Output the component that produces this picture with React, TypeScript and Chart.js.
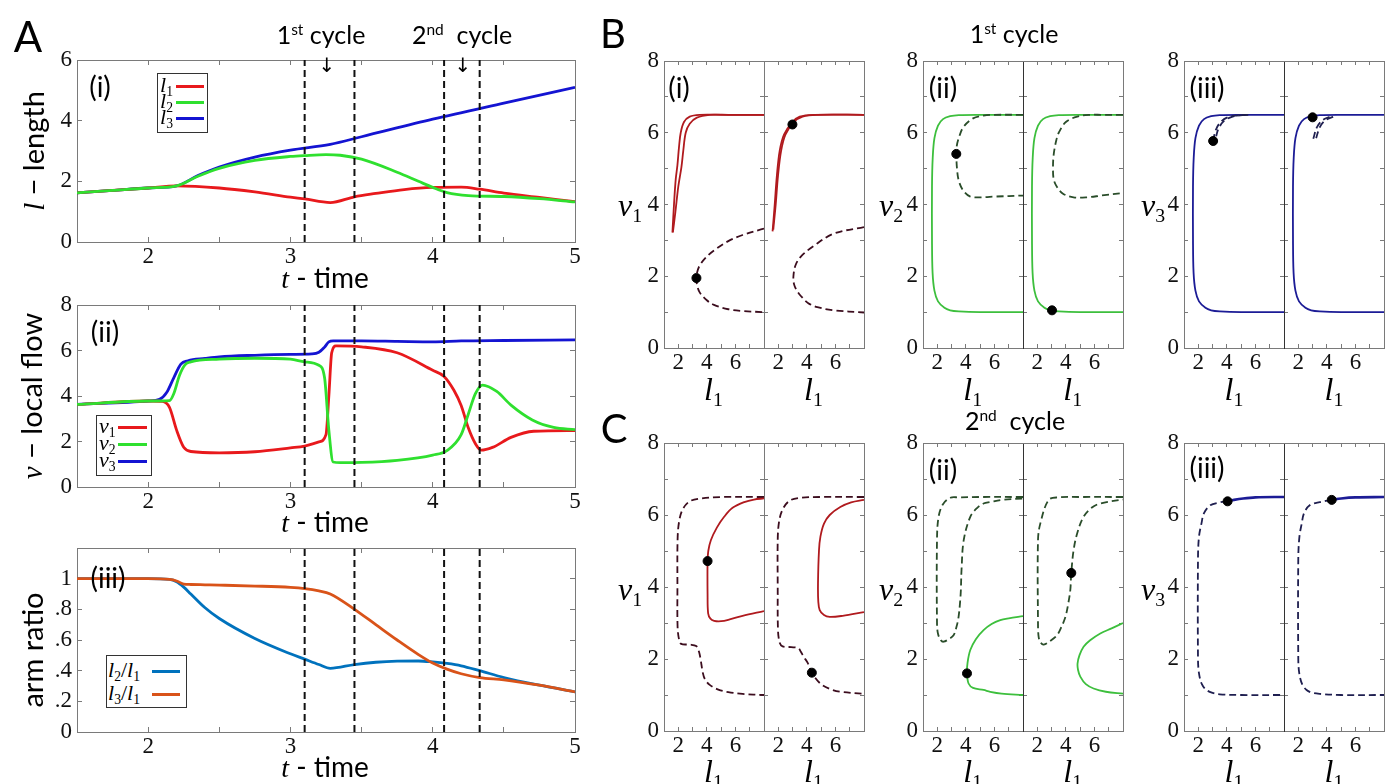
import React, { useEffect, useRef } from "react";
import { Chart, registerables } from "chart.js";
Chart.register(...registerables);

// ---------------- Panel A data ----------------
const cycleBounds = [3.1, 3.45, 4.08, 4.33];
const tTicksA = [1.5, 2, 2.5, 3, 3.5, 4, 4.5, 5];
const tTickLabelsA = ["", "2", "", "3", "", "4", "", "5"];
const lenTicks = [0, 2, 4, 6];
const lenTickLabels = ["0", "2", "4", "6"];
const flowTicks = [0, 2, 4, 6, 8];
const flowTickLabels = ["0", "2", "4", "6", "8"];
const ratioTicks = [0, 0.2, 0.4, 0.6, 0.8, 1];
const ratioTickLabels = ["0", ".2", ".4", ".6", ".8", "1"];

const tL1 = [1.5, 1.75, 2.0, 2.2, 2.5, 2.75, 3.0, 3.1, 3.28, 3.45, 3.6, 3.8, 4.0, 4.2, 4.33, 4.5, 4.75, 5.0];
const l1 = [1.62, 1.7, 1.78, 1.85, 1.78, 1.65, 1.48, 1.42, 1.3, 1.49, 1.6, 1.73, 1.8, 1.81, 1.74, 1.61, 1.47, 1.33];
const tL2 = [1.5, 1.75, 2.0, 2.2, 2.35, 2.5, 2.75, 3.0, 3.1, 3.25, 3.35, 3.5, 3.75, 3.9, 4.0, 4.1, 4.25, 4.5, 4.75, 5.0];
const l2 = [1.62, 1.7, 1.78, 1.85, 2.17, 2.43, 2.69, 2.82, 2.85, 2.88, 2.86, 2.73, 2.3, 2.0, 1.8, 1.63, 1.53, 1.5, 1.43, 1.32];
const tL3 = [1.5, 1.75, 2.0, 2.2, 2.35, 2.5, 2.75, 3.0, 3.28, 3.5, 4.0, 4.5, 5.0];
const l3 = [1.62, 1.7, 1.78, 1.85, 2.19, 2.47, 2.8, 3.03, 3.22, 3.47, 4.05, 4.58, 5.1];

const tV1 = [1.5, 2.0, 2.1, 2.15, 2.2, 2.25, 2.3, 2.5, 2.75, 3.0, 3.1, 3.2, 3.25, 3.27, 3.29, 3.32, 3.5, 3.75, 4.0, 4.08, 4.15, 4.2, 4.25, 4.3, 4.34, 4.42, 4.55, 4.71, 5.0];
const v1 = [3.63, 3.78, 3.76, 3.5, 2.5, 1.75, 1.56, 1.5, 1.55, 1.72, 1.8, 1.98, 2.3, 4.0, 5.9, 6.2, 6.16, 5.9, 5.13, 4.86, 4.24, 3.58, 2.6, 1.9, 1.62, 1.74, 2.18, 2.45, 2.48];
const tV2 = [1.5, 2.0, 2.15, 2.18, 2.22, 2.26, 2.3, 2.5, 2.75, 3.0, 3.1, 3.2, 3.24, 3.27, 3.3, 3.35, 3.5, 3.75, 4.0, 4.1, 4.2, 4.25, 4.3, 4.35, 4.45, 4.55, 4.7, 4.85, 5.0];
const v2 = [3.63, 3.78, 3.8, 4.1, 4.9, 5.38, 5.5, 5.62, 5.66, 5.62, 5.5, 5.35, 4.8, 2.5, 1.1, 1.07, 1.08, 1.17, 1.4, 1.6, 2.3, 3.2, 4.1, 4.48, 4.2, 3.6, 2.95, 2.62, 2.52];
const tV3 = [1.5, 2.0, 2.08, 2.13, 2.18, 2.23, 2.28, 2.4, 2.5, 2.75, 3.0, 3.15, 3.2, 3.24, 3.27, 3.3, 3.5, 3.75, 4.0, 4.2, 4.5, 5.0];
const v3 = [3.63, 3.78, 3.85, 4.15, 4.8, 5.4, 5.55, 5.65, 5.72, 5.79, 5.83, 5.85, 5.92, 6.15, 6.38, 6.42, 6.42, 6.4, 6.38, 6.42, 6.44, 6.47];

const tR = [1.5, 2.0, 2.15, 2.2, 2.25, 2.3, 2.4, 2.5, 2.75, 3.0, 3.1, 3.2, 3.28, 3.45, 3.6, 3.75, 3.9, 4.0, 4.1, 4.2, 4.33, 4.5, 4.75, 5.0];
const r21 = [1.0, 1.0, 0.995, 0.98, 0.945, 0.9, 0.81, 0.74, 0.61, 0.51, 0.475, 0.44, 0.415, 0.44, 0.455, 0.462, 0.463, 0.457, 0.447, 0.432, 0.4, 0.355, 0.305, 0.262];
const r31 = [1.0, 1.0, 0.995, 0.985, 0.965, 0.962, 0.96, 0.958, 0.952, 0.943, 0.935, 0.92, 0.9, 0.8, 0.7, 0.6, 0.505, 0.45, 0.41, 0.38, 0.355, 0.34, 0.305, 0.262];

// ---------------- Panels B / C data (l1 vs v) ----------------
const phaseXTicks = [1, 2, 3, 4, 5, 6, 7, 8];
const phaseXTickLabels = ["", "2", "", "4", "", "6", "", ""];
const phaseYTicks = [0, 1, 2, 3, 4, 5, 6, 7, 8];
const phaseYTickLabels = ["0", "", "2", "", "4", "", "6", "", "8"];

// B(i)
const bi_solidA_l = [1.59, 1.7, 1.82, 1.94, 2.05, 2.17, 2.4, 2.8, 3.5, 5, 8];
const bi_solidA_v = [3.22, 4.0, 4.7, 5.1, 5.6, 6.0, 6.3, 6.45, 6.5, 6.5, 6.5];
const bi_solidB_l = [1.62, 1.8, 2.0, 2.22, 2.35, 2.52, 2.8, 3.3, 4.2, 5.5, 8];
const bi_solidB_v = [3.22, 3.8, 4.5, 5.04, 5.5, 6.0, 6.25, 6.42, 6.5, 6.5, 6.5];
const bi_dash_l = [8, 6.5, 5.5, 4.5, 4.0, 3.5, 3.3, 3.27, 3.3, 3.5, 4.0, 4.5, 5.5, 6.5, 8];
const bi_dash_v = [3.33, 3.15, 2.98, 2.72, 2.55, 2.3, 2.08, 1.93, 1.78, 1.55, 1.33, 1.2, 1.08, 1.03, 1.0];
const bi_dot = [3.27, 1.95];
const bi2_solidA_l = [1.6, 1.75, 1.9, 2.1, 2.4, 2.99, 3.5, 4.5, 8];
const bi2_solidA_v = [3.25, 4.0, 4.8, 5.5, 5.95, 6.3, 6.45, 6.5, 6.5];
const bi2_solidB_l = [1.65, 1.82, 1.98, 2.2, 2.5, 3.1, 3.7, 4.7, 8];
const bi2_solidB_v = [3.3, 4.0, 4.8, 5.5, 5.95, 6.3, 6.45, 6.5, 6.5];
const bi2_dash_l = [8, 5.9, 4.5, 3.58, 3.2, 3.06, 3.1, 3.3, 3.58, 4.1, 4.73, 5.9, 8];
const bi2_dash_v = [3.37, 3.19, 2.85, 2.55, 2.3, 2.0, 1.78, 1.6, 1.45, 1.25, 1.14, 1.05, 0.99];
const bi2_dot = [2.99, 6.23];

// common outer C-shaped branch (B(ii), B(iii))
const cShape_l = [8, 5, 3.5, 2.9, 2.4, 2.05, 1.8, 1.68, 1.63, 1.63, 1.67, 1.8, 2.05, 2.5, 2.9, 3.5, 5, 8];
const cShape_v = [6.5, 6.5, 6.49, 6.46, 6.38, 6.2, 5.85, 5.3, 4.5, 3.0, 2.1, 1.6, 1.3, 1.12, 1.05, 1.02, 1.0, 1.0];

// B(ii)
const bii_dash_l = [8, 6, 5.24, 4.5, 3.83, 3.5, 3.35, 3.33, 3.38, 3.5, 3.8, 4.31, 5, 6, 8];
const bii_dash_v = [6.5, 6.5, 6.48, 6.4, 6.16, 5.85, 5.6, 5.41, 5.0, 4.67, 4.4, 4.22, 4.2, 4.22, 4.25];
const bii_dot = [3.33, 5.41];
const bii2_dash_l = [8, 6.5, 5.71, 4.8, 4.0, 3.5, 3.33, 3.15, 3.1, 3.15, 3.38, 3.8, 4.54, 5.5, 6.5, 8];
const bii2_dash_v = [6.5, 6.5, 6.5, 6.45, 6.3, 6.0, 5.79, 5.4, 5.04, 4.7, 4.49, 4.3, 4.2, 4.2, 4.25, 4.32];
const bii2_dot = [3.03, 1.05];

// B(iii)
const biii_dashA_l = [3.04, 3.2, 3.5, 4.0, 4.7, 5.5];
const biii_dashA_v = [5.77, 6.05, 6.27, 6.42, 6.48, 6.5];
const biii_dashB_l = [3.25, 3.4, 3.8, 4.4, 5.2];
const biii_dashB_v = [5.9, 6.1, 6.33, 6.45, 6.5];
const biii_dot = [3.04, 5.77];
const biii2_dashA_l = [3.05, 3.3, 3.7, 4.2];
const biii2_dashA_v = [5.83, 6.15, 6.35, 6.45];
const biii2_dashB_l = [3.25, 3.5, 3.9, 4.5];
const biii2_dashB_v = [5.85, 6.15, 6.35, 6.45];
const biii2_dot = [3.0, 6.43];

// C(i)
const ci_dash_l = [8, 5, 3.6, 2.8, 2.3, 2.05, 1.95, 1.94, 1.95, 2.05, 2.2, 2.8, 3.25, 3.45, 3.58, 3.7, 3.85, 4.2, 4.8, 5.5, 6.5, 8];
const ci_dash_v = [6.5, 6.5, 6.46, 6.38, 6.15, 5.8, 5.3, 4.0, 2.9, 2.55, 2.42, 2.4, 2.36, 2.2, 1.95, 1.65, 1.45, 1.28, 1.15, 1.08, 1.03, 1.0];
const ci_solid_l = [8, 7.3, 6.62, 5.8, 5.21, 4.7, 4.28, 4.1, 4.05, 4.05, 4.09, 4.25, 4.51, 5.0, 5.6, 6.5, 8];
const ci_solid_v = [6.46, 6.43, 6.36, 6.2, 5.95, 5.65, 5.3, 5.0, 4.7, 3.8, 3.27, 3.12, 3.06, 3.05, 3.1, 3.2, 3.33];
const ci_dot = [4.05, 4.72];
const ci2_dash_l = [8, 5, 3.6, 2.8, 2.3, 2.05, 1.96, 1.96, 1.98, 2.1, 2.3, 2.9, 3.4, 3.58, 3.8, 4.05, 4.35, 4.94, 5.6, 6.34, 8];
const ci2_dash_v = [6.5, 6.5, 6.48, 6.4, 6.15, 5.8, 5.3, 4.0, 2.8, 2.45, 2.35, 2.33, 2.3, 2.2, 2.05, 1.9, 1.62, 1.32, 1.17, 1.09, 1.03];
const ci2_solid_l = [8, 7.1, 6.34, 5.6, 5.2, 4.95, 4.85, 4.78, 4.8, 4.9, 5.2, 5.6, 6.5, 8];
const ci2_solid_v = [6.42, 6.35, 6.22, 6.0, 5.76, 5.4, 5.02, 4.1, 3.6, 3.36, 3.22, 3.17, 3.2, 3.3];
const ci2_dot = [4.35, 1.62];

// C(ii)
const cii_dash_l = [8, 5, 3.5, 2.91, 2.4, 2.09, 1.98, 1.98, 2.05, 2.25, 2.44, 2.8, 3.14, 3.35, 3.49, 3.6, 3.65, 3.7, 3.85, 4.31, 4.8, 5.24, 5.71, 6.5, 8];
const cii_dash_v = [6.5, 6.5, 6.49, 6.48, 6.3, 5.95, 5.3, 3.0, 2.7, 2.52, 2.48, 2.55, 2.66, 2.9, 3.17, 3.6, 3.91, 4.5, 5.3, 5.95, 6.2, 6.32, 6.36, 6.42, 6.46];
const cii_solid_l = [8, 7, 6.41, 5.8, 5.24, 4.7, 4.31, 4.12, 4.08, 4.19, 4.5, 5.24, 5.71, 6.5, 8];
const cii_solid_v = [3.19, 3.13, 3.08, 2.97, 2.8, 2.55, 2.25, 1.9, 1.6, 1.32, 1.2, 1.14, 1.09, 1.04, 1.0];
const cii_dot = [4.08, 1.6];
const cii2_dash_l = [8, 5, 3.5, 2.8, 2.21, 2.05, 2.05, 2.1, 2.25, 2.45, 2.9, 3.38, 3.7, 3.97, 4.15, 4.31, 4.38, 4.54, 4.8, 5.24, 5.8, 6.41, 8];
const cii2_dash_v = [6.5, 6.5, 6.49, 6.42, 5.76, 5.3, 3.0, 2.6, 2.45, 2.4, 2.5, 2.66, 2.9, 3.17, 3.5, 3.91, 4.39, 5.02, 5.5, 5.95, 6.2, 6.32, 6.43];
const cii2_solid_l = [8, 7.2, 6.41, 5.7, 5.24, 4.95, 4.82, 4.85, 5.01, 5.4, 5.94, 6.8, 8];
const cii2_solid_v = [3.0, 2.85, 2.71, 2.52, 2.34, 2.1, 1.88, 1.7, 1.51, 1.3, 1.18, 1.09, 1.04];
const cii2_dot = [4.38, 4.39];

// C(iii)
const ciii_dash_l = [4.05, 3.5, 2.84, 2.4, 2.22, 2.05, 1.98, 1.98, 2.05, 2.25, 2.57, 3.0, 3.5, 5, 8];
const ciii_dash_v = [6.38, 6.35, 6.27, 6.05, 5.76, 5.4, 4.8, 2.0, 1.6, 1.3, 1.14, 1.06, 1.02, 1.0, 1.0];
const ciii_solid_l = [4.05, 4.5, 5.14, 6, 8];
const ciii_solid_v = [6.38, 6.42, 6.46, 6.49, 6.5];
const ciii_dot = [4.05, 6.38];
const ciii2_dash_l = [4.34, 3.5, 2.8, 2.4, 2.24, 2.08, 2.0, 2.0, 2.07, 2.27, 2.58, 3.0, 3.52, 5, 8];
const ciii2_dash_v = [6.42, 6.36, 6.27, 6.05, 5.76, 5.4, 4.8, 2.0, 1.6, 1.3, 1.14, 1.06, 1.03, 1.0, 1.0];
const ciii2_solid_l = [4.34, 5, 6, 8];
const ciii2_solid_v = [6.42, 6.46, 6.49, 6.5];
const ciii2_dot = [4.34, 6.42];

// ---------------- styles ----------------
const SERIF = "'Liberation Serif', 'Times New Roman', serif";
const SANS = "Lato, 'Open Sans', 'DejaVu Sans', sans-serif";
const AXIS = "#7a7a7a";
const RED_A = "#e8191c";
const GREEN_A = "#2fe02f";
const BLUE_A = "#1414d2";
const MBLUE = "#0072BD";
const MORANGE = "#D95319";
const RED_S = "#b01a1e";
const RED_D = "#3c0d1e";
const GREEN_S = "#3dbf3d";
const GREEN_D = "#2a4d2a";
const BLUE_S = "#1c1c96";
const BLUE_D = "#1f1f50";

const ML = 50, MR = 16, MT = 34, MB = 34;

const pts = (xs: number[], ys: number[]) => xs.map((x, i) => ({ x, y: ys[i] }));
const series = (xs: number[], ys: number[], color: string) => ({
  data: pts(xs, ys), borderColor: color, borderWidth: 2.8, pointRadius: 0,
  cubicInterpolationMode: "monotone", fill: false,
});
const solid = (xs: number[], ys: number[], color: string, w = 1.8) => ({
  data: pts(xs, ys), borderColor: color, borderWidth: w, pointRadius: 0, tension: 0.35, fill: false,
});
const dashed = (xs: number[], ys: number[], color: string, w = 1.8) => ({
  ...solid(xs, ys, color, w), borderDash: [7, 4],
});
const dot = (p: number[]) => ({
  data: [{ x: p[0], y: p[1] }], showLine: false, pointRadius: 4.5,
  pointBackgroundColor: "#000", pointBorderColor: "#000", borderColor: "#000",
});
const vlines = (yMax: number) => cycleBounds.map((t) => ({
  data: [{ x: t, y: 0 }, { x: t, y: yMax }], borderColor: "#111", borderWidth: 2,
  borderDash: [7, 4], pointRadius: 0, fill: false,
}));

interface PanelSpec {
  left: number; top: number; w: number; h: number;
  xMin: number; xMax: number; yMin: number; yMax: number;
  xTicks: number[]; xTickLabels: string[];
  yTicks: number[]; yTickLabels: string[];
  showY: boolean; tickLen: number; leftBorder?: string;
  datasets: any[];
}

function buildConfig(s: PanelSpec): any {
  const tickFont = { family: SERIF, size: 23 };
  const grid = { drawOnChartArea: false, drawTicks: true, tickLength: -s.tickLen, color: AXIS, lineWidth: 1 };
  const border = { display: true, color: AXIS, width: 1 };
  const setTicks = (vals: number[]) => (axis: any) => { axis.ticks = vals.map((v) => ({ value: v })); };
  return {
    type: "line",
    data: { datasets: s.datasets },
    options: {
      animation: false, responsive: false, devicePixelRatio: 1, events: [],
      layout: { padding: { left: 0, top: MT, right: MR, bottom: 0 } },
      plugins: { legend: { display: false }, tooltip: { enabled: false }, title: { display: false } },
      scales: {
        x: {
          type: "linear", position: "bottom", min: s.xMin, max: s.xMax,
          afterBuildTicks: setTicks(s.xTicks), afterFit: (a: any) => { a.height = MB; },
          ticks: { display: true, autoSkip: false, maxRotation: 0, padding: s.tickLen + 1, font: tickFont, color: "#111",
            callback: (_v: any, i: number) => s.xTickLabels[i] },
          grid, border,
        },
        y: {
          type: "linear", position: "left", min: s.yMin, max: s.yMax,
          afterBuildTicks: setTicks(s.yTicks), afterFit: (a: any) => { a.width = ML; },
          ticks: { display: s.showY, autoSkip: false, padding: s.tickLen + 5, font: tickFont, color: "#111",
            callback: (_v: any, i: number) => s.yTickLabels[i] },
          grid, border: { ...border, color: s.leftBorder || AXIS },
        },
        x2: {
          type: "linear", position: "top", min: s.xMin, max: s.xMax,
          afterBuildTicks: setTicks(s.xTicks), afterFit: (a: any) => { a.height = 0; },
          ticks: { display: false }, grid, border,
        },
        y2: {
          type: "linear", position: "right", min: s.yMin, max: s.yMax,
          afterBuildTicks: setTicks(s.yTicks), afterFit: (a: any) => { a.width = 0; },
          ticks: { display: false }, grid, border,
        },
      },
    },
  };
}

function Panel({ spec }: { spec: PanelSpec }) {
  const ref = useRef<HTMLCanvasElement>(null);
  useEffect(() => {
    const chart = new Chart(ref.current as HTMLCanvasElement, buildConfig(spec));
    return () => chart.destroy();
  }, []);
  const W = spec.w + ML + MR, H = spec.h + MT + MB;
  return (
    <canvas ref={ref} width={W} height={H}
      style={{ position: "absolute", left: spec.left - ML, top: spec.top - MT, width: W, height: H }} />
  );
}

const A_LEFT = 77, A_W = 498;
const timePanel = (top: number, h: number, yMax: number, yTicks: number[], yLabels: string[], ds: any[]): PanelSpec => ({
  left: A_LEFT, top, w: A_W, h, xMin: 1.5, xMax: 5, yMin: 0, yMax,
  xTicks: tTicksA, xTickLabels: tTickLabelsA, yTicks, yTickLabels: yLabels, showY: true, tickLen: 5,
  datasets: [...vlines(yMax), ...ds],
});

const phasePanel = (left: number, top: number, h: number, showY: boolean, ds: any[], leftBorder?: string): PanelSpec => ({
  left, top, w: 100, h, xMin: 1, xMax: 8, yMin: 0, yMax: 8,
  xTicks: phaseXTicks, xTickLabels: phaseXTickLabels, yTicks: phaseYTicks, yTickLabels: phaseYTickLabels,
  showY, tickLen: 4, leftBorder, datasets: ds,
});

const SUB_X = [663.5, 763.5, 922.7, 1022.7, 1184, 1284];
const B_TOP = 61, B_H = 287, C_TOP = 443, C_H = 288;

const panels: PanelSpec[] = [
  timePanel(60, 182, 6, lenTicks, lenTickLabels, [
    series(tL2, l2, GREEN_A), series(tL1, l1, RED_A), series(tL3, l3, BLUE_A),
  ]),
  timePanel(305, 182, 8, flowTicks, flowTickLabels, [
    series(tV2, v2, GREEN_A), series(tV1, v1, RED_A), series(tV3, v3, BLUE_A),
  ]),
  timePanel(548, 184, 1.2, ratioTicks, ratioTickLabels, [
    series(tR, r31, MORANGE), series(tR, r21, MBLUE),
  ]),
  // B(i)
  phasePanel(SUB_X[0], B_TOP, B_H, true, [dot(bi_dot), dashed(bi_dash_l, bi_dash_v, RED_D),
    solid(bi_solidA_l, bi_solidA_v, RED_S), solid(bi_solidB_l, bi_solidB_v, RED_S)]),
  phasePanel(SUB_X[1], B_TOP, B_H, false, [dot(bi2_dot), dashed(bi2_dash_l, bi2_dash_v, RED_D),
    solid(bi2_solidA_l, bi2_solidA_v, RED_S), solid(bi2_solidB_l, bi2_solidB_v, RED_S)]),
  // B(ii)
  phasePanel(SUB_X[2], B_TOP, B_H, true, [dot(bii_dot), dashed(bii_dash_l, bii_dash_v, GREEN_D),
    solid(cShape_l, cShape_v, GREEN_S)]),
  phasePanel(SUB_X[3], B_TOP, B_H, false, [dot(bii2_dot), dashed(bii2_dash_l, bii2_dash_v, GREEN_D),
    solid(cShape_l, cShape_v, GREEN_S)], "#333"),
  // B(iii)
  phasePanel(SUB_X[4], B_TOP, B_H, true, [dot(biii_dot), dashed(biii_dashA_l, biii_dashA_v, BLUE_D),
    dashed(biii_dashB_l, biii_dashB_v, BLUE_D), solid(cShape_l, cShape_v, BLUE_S)]),
  phasePanel(SUB_X[5], B_TOP, B_H, false, [dot(biii2_dot), dashed(biii2_dashA_l, biii2_dashA_v, BLUE_D),
    dashed(biii2_dashB_l, biii2_dashB_v, BLUE_D), solid(cShape_l, cShape_v, BLUE_S)], "#333"),
  // C(i)
  phasePanel(SUB_X[0], C_TOP, C_H, true, [dot(ci_dot), solid(ci_solid_l, ci_solid_v, RED_S),
    dashed(ci_dash_l, ci_dash_v, RED_D)]),
  phasePanel(SUB_X[1], C_TOP, C_H, false, [dot(ci2_dot), solid(ci2_solid_l, ci2_solid_v, RED_S),
    dashed(ci2_dash_l, ci2_dash_v, RED_D)]),
  // C(ii)
  phasePanel(SUB_X[2], C_TOP, C_H, true, [dot(cii_dot), solid(cii_solid_l, cii_solid_v, GREEN_S),
    dashed(cii_dash_l, cii_dash_v, GREEN_D)]),
  phasePanel(SUB_X[3], C_TOP, C_H, false, [dot(cii2_dot), solid(cii2_solid_l, cii2_solid_v, GREEN_S),
    dashed(cii2_dash_l, cii2_dash_v, GREEN_D)], "#333"),
  // C(iii)
  phasePanel(SUB_X[4], C_TOP, C_H, true, [dot(ciii_dot), solid(ciii_solid_l, ciii_solid_v, BLUE_S, 2.6),
    dashed(ciii_dash_l, ciii_dash_v, BLUE_D)]),
  phasePanel(SUB_X[5], C_TOP, C_H, false, [dot(ciii2_dot), solid(ciii2_solid_l, ciii2_solid_v, BLUE_S, 2.6),
    dashed(ciii2_dash_l, ciii2_dash_v, BLUE_D)], "#333"),
];

// ---------------- text helpers ----------------
function Txt(props: { x: number; y: number; size: number; family?: string; rotate?: boolean; children: any }) {
  const { x, y, size, family = SANS, rotate, children } = props;
  return (
    <div style={{
      position: "absolute", left: x, top: y, fontSize: size, fontFamily: family, lineHeight: 1,
      whiteSpace: "pre", color: "#000",
      transform: `translate(-50%, -50%)${rotate ? " rotate(-90deg)" : ""}`,
    }}>{children}</div>
  );
}

function Sym({ s, sub, size }: { s: string; sub?: string; size?: number | string }) {
  return (
    <span style={{ fontFamily: SERIF, fontStyle: "italic", fontSize: size }}>
      {s}
      {sub !== undefined && (
        <span style={{ fontStyle: "normal", fontSize: "0.62em", position: "relative", top: "0.3em" }}>{sub}</span>
      )}
    </span>
  );
}

const Ord = ({ n, suf }: { n: string; suf: string }) => (
  <span>{n}<span style={{ fontSize: "0.62em", position: "relative", top: "-0.55em" }}>{suf}</span></span>
);

function LegendBox(props: {
  left: number; top: number; w: number; h: number;
  rows: { y: number; label: any; color: string }[]; labelX: number; x1: number; x2: number; size: number;
}) {
  const { left, top, w, h, rows, labelX, x1, x2, size } = props;
  return (
    <div>
      <div style={{ position: "absolute", left, top, width: w, height: h, border: "1px solid #333", background: "#fff", boxSizing: "border-box" }} />
      {rows.map((r, i) => (
        <React.Fragment key={i}>
          <div style={{ position: "absolute", left: labelX, top: r.y, transform: "translateY(-55%)", fontSize: size, lineHeight: 1, whiteSpace: "nowrap" }}>{r.label}</div>
          <div style={{ position: "absolute", left: x1, top: r.y - 1.5, width: x2 - x1, height: 3, background: r.color }} />
        </React.Fragment>
      ))}
    </div>
  );
}

const subCenters = SUB_X.map((x) => x + 50);

export default function App() {
  return (
    <div style={{ position: "absolute", left: 0, top: 0, width: 1386, height: 784, overflow: "hidden", background: "#fff" }}>
      {panels.map((p, i) => <Panel key={i} spec={p} />)}

      {/* Panel A texts */}
      <Txt x={28} y={36} size={42}>A</Txt>
      <Txt x={321} y={34} size={25}><Ord n="1" suf="st" /> cycle</Txt>
      <Txt x={462} y={34} size={25}><Ord n="2" suf="nd" />{"  "}cycle</Txt>
      <Txt x={327} y={65} size={20} family="'DejaVu Sans', sans-serif">↓</Txt>
      <Txt x={463} y={65} size={20} family="'DejaVu Sans', sans-serif">↓</Txt>
      <Txt x={100} y={86} size={28}>(i)</Txt>
      <Txt x={105} y={331} size={28}>(ii)</Txt>
      <Txt x={108} y={577} size={28}>(iii)</Txt>
      <Txt x={33} y={151} size={29} rotate><Sym s="l" /> − length</Txt>
      <Txt x={31} y={396} size={29} rotate><Sym s="v" /> − local flow</Txt>
      <Txt x={31} y={650} size={29} rotate>arm ratio</Txt>
      <Txt x={325} y={278} size={28}><Sym s="t" /> - time</Txt>
      <Txt x={325} y={522} size={28}><Sym s="t" /> - time</Txt>
      <Txt x={325} y={767} size={28}><Sym s="t" /> - time</Txt>

      <LegendBox left={157} top={73} w={51} h={60} labelX={160} x1={176} x2={204} size={22}
        rows={[
          { y: 86, label: <Sym s="l" sub="1" />, color: RED_A },
          { y: 102, label: <Sym s="l" sub="2" />, color: GREEN_A },
          { y: 118, label: <Sym s="l" sub="3" />, color: BLUE_A },
        ]} />
      <LegendBox left={96} top={415} w={56} h={61} labelX={99} x1={118} x2={147} size={22}
        rows={[
          { y: 427, label: <Sym s="v" sub="1" />, color: RED_A },
          { y: 444, label: <Sym s="v" sub="2" />, color: GREEN_A },
          { y: 461, label: <Sym s="v" sub="3" />, color: BLUE_A },
        ]} />
      <LegendBox left={106} top={655} w={81} h={53} labelX={108} x1={152} x2={180} size={22}
        rows={[
          { y: 671, label: <span><Sym s="l" sub="2" /><span style={{ fontFamily: SERIF }}>/</span><Sym s="l" sub="1" /></span>, color: MBLUE },
          { y: 694, label: <span><Sym s="l" sub="3" /><span style={{ fontFamily: SERIF }}>/</span><Sym s="l" sub="1" /></span>, color: MORANGE },
        ]} />

      {/* Panels B / C texts */}
      <Txt x={613} y={33} size={40}>B</Txt>
      <Txt x={614} y={428} size={40}>C</Txt>
      <Txt x={1014} y={33} size={25}><Ord n="1" suf="st" /> cycle</Txt>
      <Txt x={1015} y={420} size={25}><Ord n="2" suf="nd" />{"  "}cycle</Txt>
      <Txt x={679} y={87} size={28}>(i)</Txt>
      <Txt x={943} y={87} size={28}>(ii)</Txt>
      <Txt x={1207} y={87} size={28}>(iii)</Txt>
      <Txt x={943} y={469} size={28}>(ii)</Txt>
      <Txt x={1207} y={467} size={28}>(iii)</Txt>

      <Txt x={630} y={204} size={32}><Sym s="v" sub="1" /></Txt>
      <Txt x={891} y={204} size={32}><Sym s="v" sub="2" /></Txt>
      <Txt x={1153} y={204} size={32}><Sym s="v" sub="3" /></Txt>
      <Txt x={630} y={588} size={32}><Sym s="v" sub="1" /></Txt>
      <Txt x={891} y={588} size={32}><Sym s="v" sub="2" /></Txt>
      <Txt x={1153} y={588} size={32}><Sym s="v" sub="3" /></Txt>

      {subCenters.map((cx, i) => (
        <React.Fragment key={i}>
          <Txt x={cx} y={388} size={32}><Sym s="l" sub="1" /></Txt>
          <Txt x={cx} y={770} size={32}><Sym s="l" sub="1" /></Txt>
        </React.Fragment>
      ))}
    </div>
  );
}
